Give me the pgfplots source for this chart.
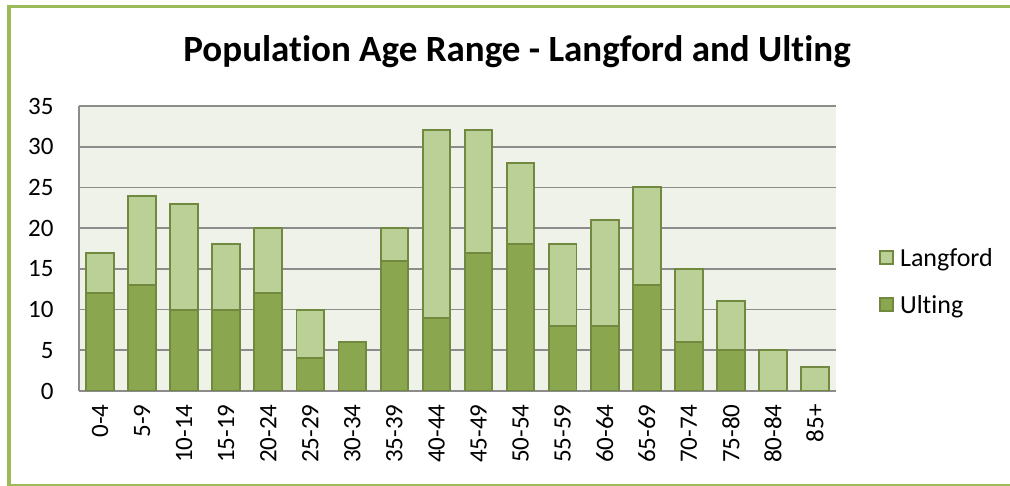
\documentclass[border=0pt]{standalone}
\usepackage{pgfplots}
\pgfplotsset{compat=1.18}
\usepackage{fontspec}
\setmainfont[Ligatures=NoCommon]{Carlito}
\definecolor{ulting}{HTML}{8AA64F}
\definecolor{langford}{HTML}{BBD096}
\definecolor{edgegreen}{HTML}{71893F}
\definecolor{plotbg}{HTML}{EFF2E9}
\definecolor{gridgray}{HTML}{8C8C8C}
\definecolor{framegreen}{HTML}{9BBB59}
\begin{document}
\begin{tikzpicture}[x=1bp,y=1bp]
\useasboundingbox (0,0) rectangle (1010,486);
\fill[white] (0,0) rectangle (1010,486);
\begin{axis}[
  at={(79bp,95bp)}, anchor=south west,
  scale only axis, width=757bp, height=285bp,
  ybar stacked, bar width=27.7bp,
  xmin=-0.5, xmax=17.5, ymin=0, ymax=35,
  xtick={0,...,17},
  xticklabels={0-4,5-9,10-14,15-19,20-24,25-29,30-34,35-39,40-44,45-49,50-54,55-59,60-64,65-69,70-74,75-80,80-84,85+},
  ytick={0,5,...,35},
  major tick length=0pt,
  x tick label style={rotate=90, anchor=east, font=\fontsize{25bp}{29bp}\selectfont},
  y tick label style={font=\fontsize{25bp}{29bp}\selectfont},
  /pgf/number format/assume math mode=true,
  xticklabel shift=10bp, yticklabel shift=22bp,
  axis background/.style={fill=plotbg},
  ymajorgrids, grid style={gridgray, line width=1.8bp},
  axis x line*=bottom, axis y line*=left,
  axis line style={gridgray, line width=1.8bp},
  every axis plot/.append style={draw=edgegreen, line width=1.9bp},
  area legend,
  reverse legend,
  legend image code/.code={\draw[#1] (0bp,-6bp) rectangle (13bp,7bp);},
  legend style={at={(rel axis cs:1.0568,0.384)}, anchor=west, draw=none, fill=none,
    font=\fontsize{26bp}{30bp}\selectfont, inner sep=0pt, row sep=23bp,
    /tikz/every odd column/.append style={column sep=4bp}},
  legend cell align=left,
]
\addplot[fill=ulting] coordinates {(0,12) (1,13) (2,10) (3,10) (4,12) (5,4) (6,6) (7,16) (8,9) (9,17) (10,18) (11,8) (12,8) (13,13) (14,6) (15,5) (16,0) (17,0)};
\addplot[fill=langford] coordinates {(0,5) (1,11) (2,13) (3,8) (4,8) (5,6) (6,0) (7,4) (8,23) (9,15) (10,10) (11,10) (12,13) (13,12) (14,9) (15,6) (16,5) (17,3)};
\legend{Ulting,Langford}
\end{axis}
\node[font=\bfseries\fontsize{37bp}{42bp}\selectfont] at (517,434) {Population Age Range - Langford and Ulting};
\fill[framegreen] (7,0) rectangle (11,481);
\fill[framegreen] (7,478) rectangle (1010,481);
\fill[framegreen] (7,0) rectangle (1010,2);
\end{tikzpicture}
\end{document}
